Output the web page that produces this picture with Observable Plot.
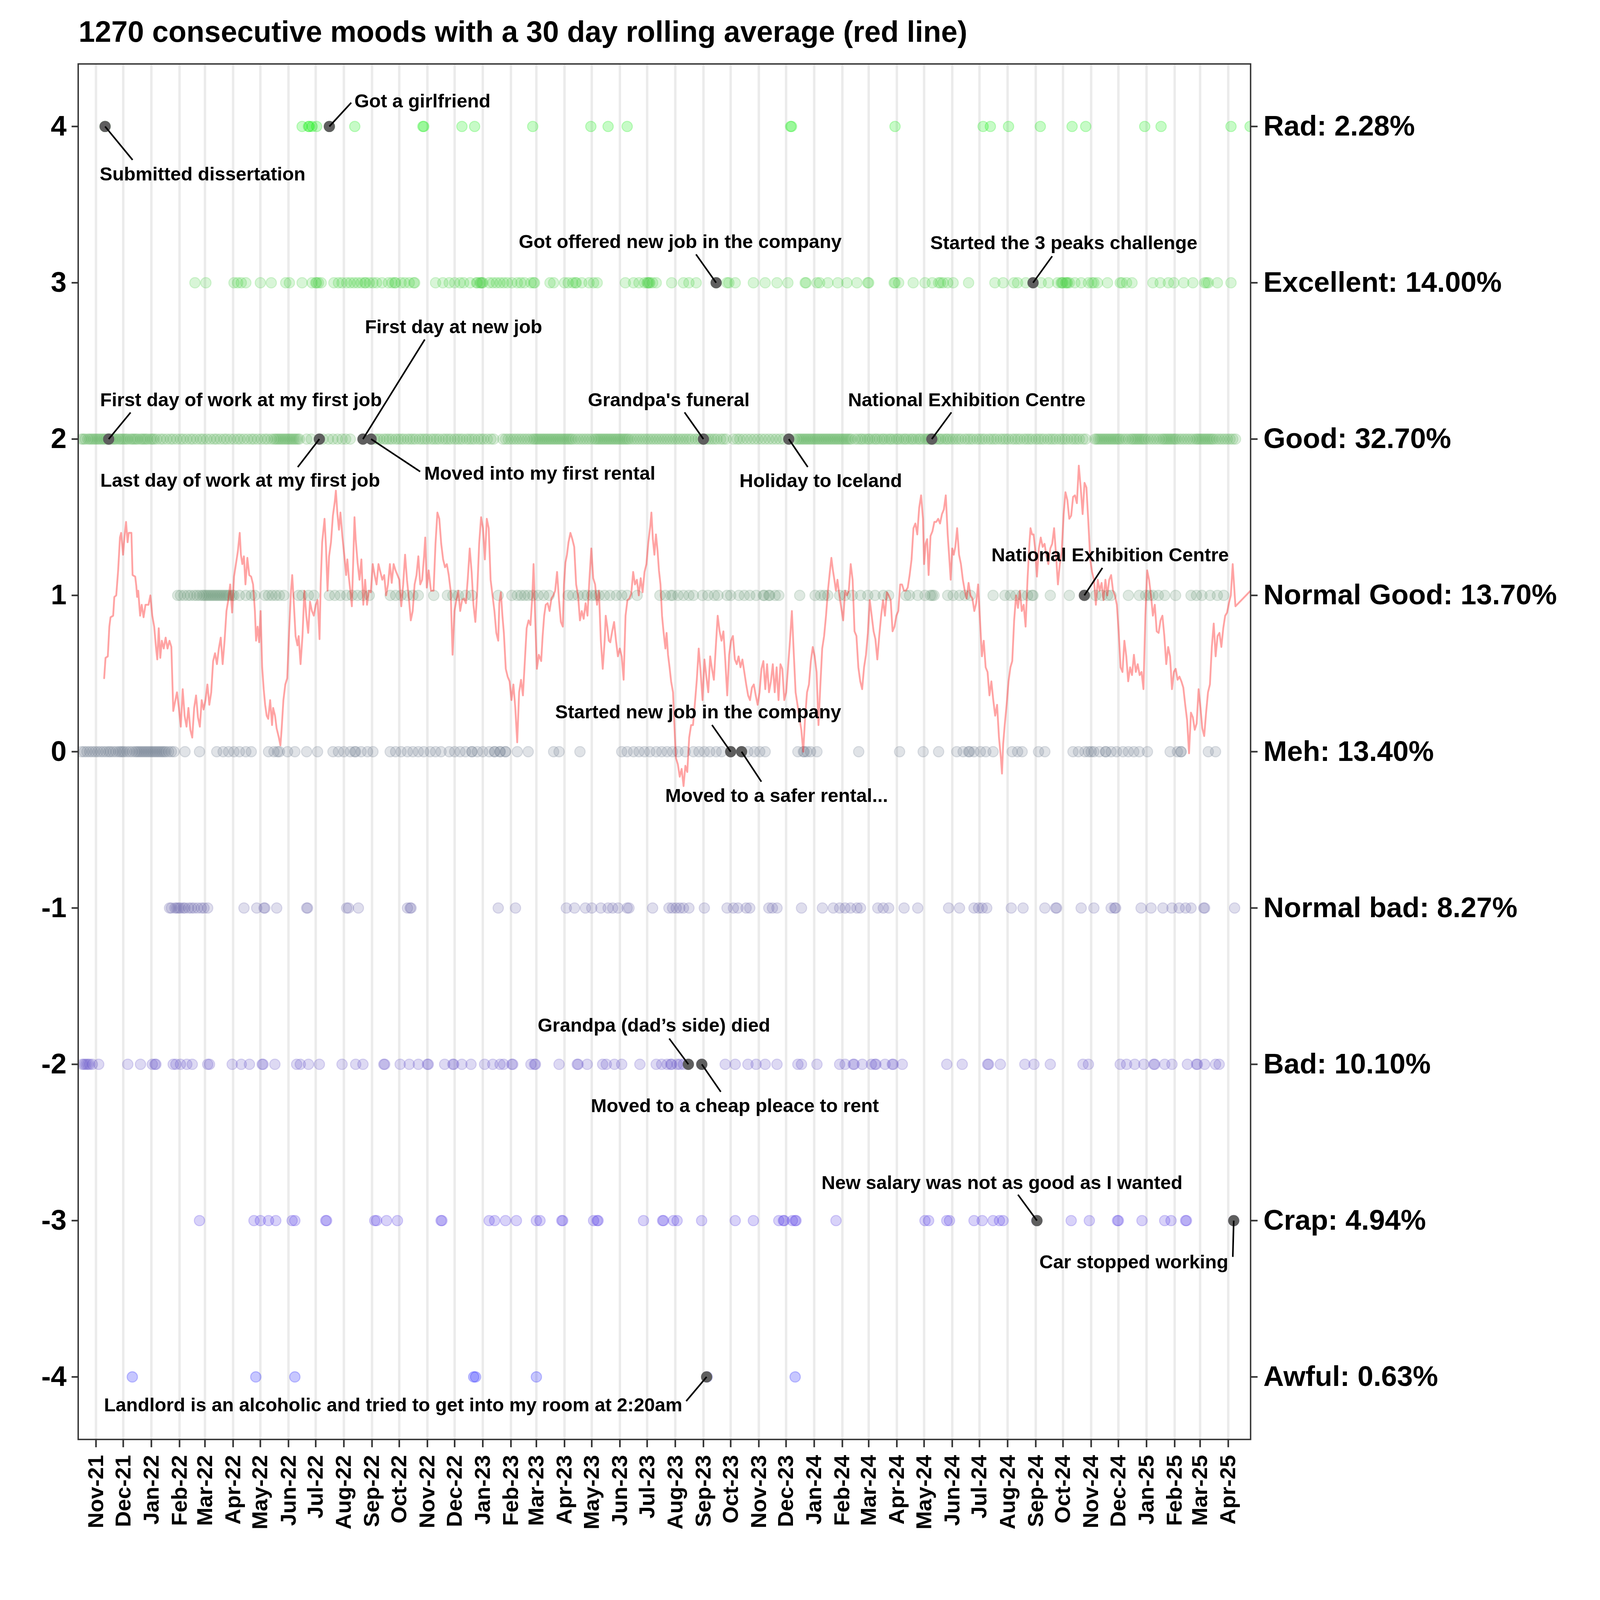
<!DOCTYPE html>
<html><head><meta charset="utf-8">
<script src="https://cdn.jsdelivr.net/npm/d3@7"></script>
<script src="https://cdn.jsdelivr.net/npm/@observablehq/plot@0.6"></script>
<style>
html,body{margin:0;padding:0;background:#fff;overflow:hidden;}
#wrap{position:absolute;left:0;top:0;font-family:"Liberation Sans",Arial,sans-serif;background:#fff;}
#title{position:absolute;font-weight:bold;white-space:nowrap;color:#000;}
#chart{position:absolute;left:0;}
</style></head><body>
<div id="wrap"><div id="title">1270 consecutive moods with a 30 day rolling average (red line)</div><div id="chart"></div></div>
<script>
// Day offsets from 2021-11-01 for each logged mood
const rad = [10,227,234,235,238,243,257,285,360,361,403,417,481,545,564,585,765,766,880,977,985,1005,1040,1075,1090,1155,1173,1250,1271];
const excellent = [109,121,152,156,160,165,181,193,209,213,227,238,242,243,245,248,262,267,271,276,280,284,288,292,296,297,301,305,309,315,322,326,329,330,336,340,345,350,351,374,382,389,395,401,405,412,419,420,423,424,425,426,433,437,441,445,449,453,458,464,468,472,479,482,483,500,504,516,520,525,528,529,535,543,548,552,583,592,598,604,607,608,609,610,613,617,634,
647,653,661,683,695,697,704,724,737,750,762,781,782,794,797,806,817,827,838,850,851,879,880,884,900,913,921,928,930,933,938,944,961,990,999,1011,1015,1024,1032,1041,1049,1059,1063,1064,1065,1068,1069,1070,1072,1078,1085,1093,1097,1099,1103,1114,1128,1130,1135,1141,1164,1172,1181,1187,1198,1208,1221,1223,1225,1235,1250];
const good = [-16,-14,-12,-9,-7,-5,-3,-1,1,3,5,7,9,11,13,14,16,18,20,22,25,27,29,31,33,35,38,40,42,44,46,49,51,53,55,57,60,62,64,
67,71,74,78,82,85,89,93,96,100,104,107,111,115,118,122,126,130,133,137,141,144,148,152,156,159,163,167,171,174,178,182,186,189,193,196,
198,200,202,204,206,208,210,212,214,216,218,220,222,224,232,237,246,250,256,261,266,271,275,280,294,303,
307,310,313,317,320,323,326,330,333,336,339,343,346,349,352,356,359,362,365,369,372,375,378,382,385,388,391,395,398,401,404,408,411,414,417,421,424,427,431,435,438,
448,451,454,457,460,463,466,469,472,475,478,481,483,485,487,489,491,493,495,497,499,501,503,505,507,509,511,513,515,517,519,521,523,525,528,531,534,537,540,543,546,549,551,553,555,557,559,561,563,565,567,569,571,573,575,577,579,581,583,585,587,590,593,596,599,602,605,608,611,614,617,620,623,626,629,632,635,
638,641,644,647,650,653,656,660,663,666,669,672,675,678,681,684,688,691,694,702,706,709,713,717,721,725,729,733,737,741,745,749,753,757,763,
769,772,774,776,778,780,782,784,786,788,790,792,794,796,798,800,802,804,806,808,810,812,814,816,818,820,822,824,826,828,830,832,
836,839,842,844,847,850,852,855,858,860,863,866,868,871,874,876,879,882,884,887,890,892,895,898,900,903,906,908,911,914,916,918,920,922,925,928,930,933,936,938,941,
944,947,950,953,957,960,963,966,970,973,976,979,983,986,989,992,996,999,1002,1005,1009,1012,1015,1018,1022,1025,1028,1031,1035,1038,1041,1044,1048,1051,1054,1057,1061,1064,1067,1070,1074,1077,1080,1083,1087,1090,
1100,1102,1104,1106,1108,1110,1112,1114,1116,1118,1120,1122,1124,1126,1128,1131,1134,1137,1140,1142,1144,1146,1148,1150,1152,1154,1156,1159,1162,1165,1168,1171,1174,1176,1178,1180,1182,1184,1186,1188,1190,1193,1196,1199,1202,1205,1208,1211,1213,1215,1217,1219,1221,1223,1225,1227,1229,1231,1234,1237,1240,1243,1246,1249,1252,1255];
const normalGood = [90,93,97,101,104,108,111,114,117,119,121,123,125,127,129,131,133,135,137,139,141,143,145,147,150,152,158,165,171,175,186,190,194,198,202,207,223,227,234,240,257,263,269,276,282,288,294,301,324,330,336,343,349,355,372,387,393,399,407,414,443,458,464,468,472,476,481,487,493,499,520,525,531,537,541,546,550,554,560,566,573,579,585,596,621,627,633,
635,641,647,653,658,668,674,681,685,695,699,708,714,720,727,735,736,741,742,748,752,775,792,798,802,806,819,825,833,842,850,858,867,873,892,896,905,913,919,921,923,938,944,951,957,963,988,1001,1007,1013,1020,1026,1031,1032,1051,1072,1089,1101,1108,1114,1118,1137,1149,1156,1160,1164,1170,1177,1189,1206,1212,1218,1227,1235,1242];
const meh = [-16,-13,-10,-7,-4,-1,2,5,8,11,14,16,19,22,25,27,29,31,34,37,40,43,45,47,49,51,53,55,57,59,61,63,65,67,69,71,73,75,77,80,83,86,98,114,133,140,146,152,158,165,171,190,196,200,202,211,219,232,244,261,267,273,280,285,286,292,299,305,324,330,336,343,349,355,361,368,374,380,389,395,401,407,414,414,420,426,433,439,439,445,445,451,451,464,476,504,510,533,579,585,592,598,604,610,617,623,629,
635,641,649,658,664,670,676,683,689,699,711,718,725,731,737,773,779,780,783,787,794,840,885,911,928,948,955,961,962,967,974,980,988,1009,1015,1020,1038,1045,1076,1082,1089,1093,1096,1099,1105,1112,1112,1118,1124,1131,1137,1143,1149,1158,1183,1191,1195,1195,1225,1233];
const normalBad = [81,83,87,89,91,93,96,98,102,105,108,112,116,119,123,163,177,185,186,199,232,233,276,278,289,343,346,347,443,462,518,527,539,546,556,564,569,575,585,587,613,631,
635,639,643,647,653,670,695,702,707,716,720,741,745,750,777,800,812,819,825,831,838,842,861,867,873,890,905,939,951,967,972,976,981,1008,1021,1045,1057,1058,1085,1099,1118,1122,1123,1151,1162,1175,1185,1193,1200,1206,1220,1221,1254];
const bad = [-15,-13,-11,-9,-7,-4,3,35,49,62,65,66,85,88,93,100,106,123,125,150,160,169,183,184,197,221,225,234,246,271,286,294,317,318,335,345,355,365,366,384,393,394,403,413,428,437,445,449,458,459,479,483,484,510,530,531,541,558,562,571,579,599,617,623,629,633,634,640,643,647,
652,667,693,704,718,727,737,750,773,777,794,819,825,834,835,844,854,858,859,869,877,878,888,937,954,982,983,996,1023,1033,1051,1087,1093,1128,1135,1144,1154,1165,1166,1177,1185,1202,1212,1213,1221,1233,1237];
const crap = [114,174,181,190,198,216,219,253,254,307,309,320,332,380,381,433,439,451,463,485,489,513,514,548,552,553,603,624,625,636,640,667,704,724,752,757,758,767,770,771,815,913,917,937,940,967,976,988,995,999,1036,1074,1094,1125,1126,1152,1177,1184,1200,1201,1253];
const awful = [40,176,219,416,418,485,673,770];

// 30 day rolling average: [day offset, value]
const rollingAvg = [[9,.47],[10.5,.60],[13,.61],[14.7,.80],[16,.86],[18.9,.87],[20.2,.99],[22.3,1.00],[24.4,1.16],[26.4,1.37],[27.7,1.40],[29.8,1.26],[31.5,1.38],[33.1,1.47],[34.8,1.34],[36.1,1.40],[39,1.40],[40.3,1.13],[43.2,1.12],[44.4,1.06],[45.3,.99],[46.5,1.03],[48.6,.87],[50.3,.94],[52.4,.86],[54.5,.94],[57.8,.94],[59.9,1.00],[62,.87],[64.1,.80],[66.2,.66],[67.5,.59],[69.1,.79],[70.8,.60],[72.5,.71],[74.6,.66],[76.7,.73],[78.8,.66],[80.9,.71],[83,.67],[85.1,.26],[87.1,.32],[89.2,.38],[91.3,.28],[93.4,.16],[95.5,.40],[97.6,.23],[99.7,.16],[101.8,.28],[103.9,.14],[106,.09],[108.1,.28],[110.2,.36],[112.3,.22],[114.4,.16],[116.4,.33],[118.5,.27],[120.6,.33],[122.7,.43],[124.8,.30],[126.9,.38],[129,.58],[131.1,.63],[133.2,.56],[135.3,.66],[137.4,.73],[139.5,.56],[141.6,.71],[143.7,.90],[145.7,.97],[147.8,1.07],[149.9,.89],[152,1.12],[154.1,1.20],[156.2,1.28],[158.3,1.40],[159.6,1.26],[161.2,1.20],[162.9,1.25],[164.6,1.07],[166.7,1.24],[168.8,1.13],[170.9,1.12],[173,1.07],[175,.90],[176.3,.71],[178,.80],[179.7,.70],[181.3,.90],[183,.54],[184.7,.40],[186.3,.30],[188,.23],[189.7,.21],[191.8,.33],[193.9,.17],[195.1,.28],[197.2,.23],[198.9,.15],[201.4,.09],[203.1,.04],[204.4,.14],[206.4,.33],[208.5,.43],[210.6,.47],[212.7,.77],[214.8,1.03],[216.1,1.13],[217.7,.97],[219.8,.74],[221.9,.68],[223.2,.74],[225.3,.56],[227.4,.74],[229.5,1.03],[231.6,.87],[233.7,.76],[235.7,.96],[237.8,.90],[239.9,.87],[242,.94],[244.1,.97],[246.2,.72],[247.5,1.08],[249.1,1.34],[251.7,1.49],[253.3,1.31],[255,1.03],[256.7,1.25],[258.8,1.34],[260.9,1.51],[263,1.60],[264.2,1.67],[265.9,1.52],[267.6,1.42],[269.2,1.53],[271.3,1.38],[273.4,1.26],[275.5,1.13],[276.8,1.23],[278.4,1.12],[280.1,1.03],[281.8,.93],[283.5,1.26],[284.7,1.50],[286,1.36],[288.1,1.21],[290.2,1.10],[292.3,1.23],[294.4,.94],[296.4,1.10],[298.5,.94],[300.6,1.03],[302.7,1.02],[304.8,1.20],[306.9,1.13],[309,1.07],[311.1,1.20],[313.2,1.15],[315.3,1.10],[317.4,1.13],[319.5,1.00],[321.6,1.07],[323.7,1.20],[325.7,1.08],[327.8,1.20],[329.9,1.16],[332,1.13],[334.1,1.10],[336.2,.93],[338.3,1.07],[340.4,1.26],[342.5,1.10],[344.6,.98],[346.7,.84],[348.8,.90],[350.9,1.07],[353,1.13],[355,1.25],[357.1,1.07],[359.2,1.10],[361.3,1.25],[362.6,1.37],[364.3,1.05],[366.4,1.16],[368.9,1.03],[371.8,1.03],[373.9,1.33],[376,1.53],[378.1,1.49],[380.2,1.33],[382.3,1.23],[384.4,1.18],[386.4,1.20],[388.5,1.13],[390.6,1.03],[392.7,.62],[394.8,.90],[396.9,.97],[399,1.03],[401.1,.90],[403.2,.97],[405.3,.98],[407.4,.95],[409.5,1.11],[411.6,1.30],[413.7,1.15],[415.7,.94],[417.8,.83],[419.9,1.03],[422,1.33],[424.1,1.50],[426.2,1.43],[428.3,1.23],[430.4,1.49],[432.5,1.43],[434.6,1.10],[436.7,1.00],[438.8,.90],[440.9,.76],[443,.71],[444.2,.95],[445.9,1.02],[447.6,.87],[449.2,.76],[451.3,.53],[453.4,.48],[455.5,.45],[457.6,.33],[459.7,.43],[461.8,.28],[463.9,.06],[466,.38],[468.1,.46],[470.2,.36],[472.3,.58],[474.3,.79],[476.4,.84],[478.5,.81],[480.6,1.00],[481.9,1.20],[483.6,.87],[485.6,.53],[487.7,.62],[490.3,.58],[491.9,.74],[493.6,.87],[495.3,.94],[497.4,.95],[499.5,.90],[501.6,.98],[503.7,1.00],[505.7,1.03],[507.8,1.15],[509.9,.97],[512,.83],[514.1,.80],[515.4,1.07],[517,1.21],[518.7,1.26],[520.4,1.34],[522.5,1.40],[524.6,1.36],[526.7,1.31],[528.8,1.07],[530.9,1.00],[533,.84],[535,.90],[537.1,.85],[539.2,.95],[541.3,.87],[543.4,1.10],[545.5,1.30],[547.6,1.11],[549.7,1.07],[551.8,.94],[553.9,1.03],[556,.71],[558.1,.53],[560.2,.71],[561.4,.87],[563.1,.80],[564.8,.71],[566.4,.70],[568.5,.77],[570.6,.83],[572.7,.71],[574.8,.61],[576.9,.66],[579,.61],[581.1,.46],[583.2,.87],[585.3,.97],[587.4,.98],[589.5,1.01],[591.6,1.15],[593.6,1.07],[595.7,1.10],[597.8,1.00],[599.9,1.11],[602,1.02],[604.1,1.15],[606.2,1.20],[608.3,1.34],[610.4,1.44],[611.7,1.53],[613.3,1.36],[615,1.26],[616.7,1.39],[618.4,1.29],[620,1.16],[621.7,1.07],[623.4,.87],[625,.77],[627.1,.66],[628.4,.76],[630,.62],[631.7,.54],[633.4,.45],[635.5,.38],
[636.6,.22],[638.7,-.04],[640.8,-.08],[642.9,-.16],[645,-.11],[647.1,-.22],[649.1,-.09],[651.2,-.13],[653.3,.09],[655.4,.17],[657.5,.17],[659.6,.31],[661.7,.46],[663.8,.66],[665.9,.51],[668,.33],[670.1,.59],[672.2,.48],[674.3,.38],[676.4,.61],[678.4,.53],[680.5,.46],[682.6,.67],[684.7,.87],[686.8,.77],[688.9,.71],[691,.77],[693.1,.58],[695.2,.36],[697.3,.62],[699.4,.71],[701.5,.74],[703.6,.59],[705.7,.56],[707.7,.61],[709.8,.54],[711.9,.59],[714,.51],[716.1,.43],[718.2,.36],[720.3,.33],[722.4,.41],[724.5,.43],[726.6,.36],[728.7,.30],[730.8,.38],[732.9,.53],[735,.58],[737.1,.40],[739.1,.56],[741.2,.38],[743.3,.45],[745.4,.56],[747.5,.38],[749.6,.54],[751.7,.33],[753.8,.56],[755.9,.53],[758,.33],[760.1,.38],[762.2,.54],[764.3,.71],[766.4,.90],[768.4,.64],[770.5,.38],[772.6,.30],[774.7,.22],[776.8,.14],[778.9,.00],[781,.22],[783.1,.38],[785.2,.43],[787.3,.58],[789.4,.67],[791.5,.61],[793.6,.51],[795.7,.17],[797.8,.43],[799.8,.66],[801.9,.74],[804,.87],[806.1,1.03],[808.2,1.15],[809.9,1.24],[811.6,1.16],[813.2,1.10],[814.9,1.03],[816.6,1.10],[818.7,1.00],[820.8,.92],[822.9,.84],[825,1.03],[827,1.00],[829.1,1.03],[831.2,1.20],[833.3,1.10],[835.4,.77],[837.5,.74],[839.6,.54],[841.7,.45],[843.8,.40],[845.9,.54],[848,.62],[850.1,.76],[852.2,.97],[854.3,.87],[856.4,.77],[858.4,.72],[860.5,.59],[862.6,.74],[864.7,.87],[866.8,.97],[868.9,.87],[871,1.02],[873.1,1.00],[875.2,.97],[877.3,.77],[879.4,.80],[881.5,.87],[883.6,.90],[885.7,1.07],[887.7,1.07],[889.8,1.03],[891.9,1.03],[894,1.05],[896.1,1.13],[898.2,1.23],[900.3,1.43],[902.4,1.46],[904.5,1.39],[906.6,1.56],[908.7,1.64],[910.8,1.49],[912,1.20],[913.7,1.33],[915.4,1.36],[917,1.13],[919.1,1.38],[921.2,1.41],[923.3,1.47],[925.4,1.47],[927.5,1.49],[929.6,1.46],[931.7,1.52],[933.8,1.55],[935.9,1.64],[938,1.39],[940.1,1.21],[941.3,1.10],[943,1.30],[944.7,1.26],[946.4,1.31],[948.4,1.43],[950.5,1.26],[952.6,1.20],[954.7,1.10],[956.8,1.03],[958.9,.98],[961,1.08],[963.1,1.00],[965.2,.98],[967.3,.90],[969.4,.95],[971.5,1.07],[973.6,.84],[975.7,.61],[977.7,.71],[979.8,.54],[981.9,.51],[984,.36],[986.1,.45],[988.2,.33],[990.3,.23],[992.4,.30],[994.5,.09],[996.6,-.04],[997.8,-.14],[999.1,.05],[1000.8,.17],[1002.9,.30],[1005,.45],[1007.1,.54],[1009.1,.58],[1011.2,.84],[1013.3,1.00],[1015.4,.92],[1017.5,1.03],[1019.6,.90],[1021.7,.94],[1023.8,.80],[1025.9,1.10],[1028,1.33],[1029.2,1.43],[1030.9,1.39],[1032.6,1.39],[1034.3,1.30],[1036.3,1.12],[1038.4,1.30],[1040.5,1.37],[1042.6,1.31],[1044.7,1.33],[1046.8,1.25],[1048.9,1.20],[1051,1.30],[1053.1,1.33],[1055.2,1.43],[1057.3,1.26],[1059.4,1.07],[1061.5,1.20],[1063.6,1.28],[1065.7,1.52],[1067.7,1.66],[1069.8,1.61],[1071.9,1.49],[1074,1.51],[1076.1,1.63],[1078.2,1.64],[1080.3,1.59],[1082.4,1.83],[1084.5,1.69],[1086.6,1.52],[1088.7,1.72],[1090.8,1.69],[1092.9,1.47],[1095,1.23],[1097,1.15],[1099.1,1.10],[1101.2,.94],[1103.3,1.10],[1105.4,1.03],[1107.5,1.08],[1109.6,.97],[1111.7,1.10],[1113.8,1.00],[1115.9,1.10],[1118,1.13],[1120.1,1.03],[1122.2,1.00],[1124.3,.94],[1126.3,.77],[1128.4,.54],[1130.5,.51],[1132.6,.71],[1134.7,.61],[1136.8,.45],[1138.9,.54],[1141,.49],[1143.1,.62],[1145.2,.51],[1147.3,.56],[1149.4,.49],[1151.5,.51],[1153.6,.40],[1155.7,.87],[1157.7,1.16],[1159.8,1.10],[1161.9,1.00],[1164,.87],[1166.1,.94],[1168.2,.77],[1170.3,.76],[1172.4,.84],[1174.5,.87],[1176.6,.74],[1178.7,.56],[1180.8,.67],[1182.9,.61],[1185,.40],[1187.1,.51],[1189.1,.53],[1191.2,.46],[1193.3,.48],[1195.4,.45],[1197.5,.41],[1199.6,.30],[1201.7,.20],[1203.8,-.01],[1205.9,.25],[1208,.22],[1210.1,.14],[1212.2,.18],[1214.3,.40],[1216.4,.28],[1218.4,.15],[1220.5,.10],[1222.6,.25],[1224.7,.38],[1226.8,.43],[1228.9,.67],[1231,.82],[1233.1,.61],[1235.2,.74],[1237.3,.76],[1239.4,.67],[1241.5,.79],[1243.6,.87],[1245.7,.89],[1247.7,.95],[1249.8,1.00],[1251.9,1.20],[1254.9,.93],[1271.6,1.03]];

// Mood levels and the right-hand labels
const moodLevels = [4,3,2,1,0,-1,-2,-3,-4];
const moodLabels = ["Rad: 2.28%","Excellent: 14.00%","Good: 32.70%","Normal Good: 13.70%","Meh: 13.40%","Normal bad: 8.27%","Bad: 10.10%","Crap: 4.94%","Awful: 0.63%"];

// Annotated events: day offset, mood, text
const eventDays = [10,257,683,1032,14,246,294,303,669,763,920.5,1088.5,699,711,652.4,667.2,672.5,1036.3,1253];
const eventMoods = [4,4,3,3,2,2,2,2,2,2,2,1,0,0,-2,-2,-4,-3,-3];
const eventTexts = ["Submitted dissertation","Got a girlfriend","Got offered new job in the company","Started the 3 peaks challenge","First day of work at my first job","Last day of work at my first job","First day at new job","Moved into my first rental","Grandpa's funeral","Holiday to Iceland","National Exhibition Centre","National Exhibition Centre","Started new job in the company","Moved to a safer rental...","Grandpa (dad\u2019s side) died","Moved to a cheap pleace to rent","Landlord is an alcoholic and tried to get into my room at 2:20am","New salary was not as good as I wanted","Car stopped working"];
// label anchor (day, value) and leader end (day, value)
const labelDays = [117.4,359.5,643.4,1065.9,159.7,158.8,393.8,488.8,630.8,798.2,959.0,1116.9,663.2,749.6,614.5,703.6,327.3,997.8,1143.0];
const labelVals = [3.694,4.162,3.261,3.253,2.250,1.733,2.717,1.778,2.250,1.731,2.250,1.256,0.253,-0.283,-1.752,-2.266,-4.182,-2.758,-3.267];
const leaderDays = [40.3,281.1,660.8,1053.1,38.1,222.2,362.1,357.0,648.2,783.9,942.1,1108.4,678.4,732.8,631.3,688.1,650.0,1015.4,1252.0];
const leaderVals = [3.786,4.152,3.182,3.170,2.170,1.821,2.637,1.792,2.171,1.821,2.171,1.176,0.171,-0.192,-1.835,-2.176,-4.155,-2.834,-3.232];

const base = Date.UTC(2021, 10, 1);
const toDate = d => new Date(base + d * 864e5);

const rows = [[4,rad],[3,excellent],[2,good],[1,normalGood],[0,meh],[-1,normalBad],[-2,bad],[-3,crap],[-4,awful]];
const points = rows.flatMap(([m, days]) => days.map(d => ({date: toDate(d), mood: m}))).sort((a,b) => a.date - b.date);
const avg = rollingAvg.map(([d, v]) => ({date: toDate(d), value: v}));
const events = eventDays.map((d, i) => ({
  date: toDate(d), mood: eventMoods[i], text: eventTexts[i],
  lx: toDate(labelDays[i]), ly: labelVals[i], ex: toDate(leaderDays[i]), ey: leaderVals[i]
}));
const months = d3.utcMonths(new Date(Date.UTC(2021,10,1)), new Date(Date.UTC(2025,4,1)));

// Layout is designed for 8000x6400 and fitted to the actual window.
const W = window.innerWidth || 8000, H = window.innerHeight || 6400;
const sx = W / 8000, sy = H / 6400, f = Math.min(sx, sy);
const wrap = document.getElementById("wrap");
wrap.style.width = W + "px"; wrap.style.height = H + "px";
const title = document.getElementById("title");
title.style.left = (393 * sx) + "px";
title.style.fontSize = (147 * f) + "px";
title.style.lineHeight = (147 * f) + "px";
title.style.top = (169 * sy - 124.4 * f) + "px";
document.getElementById("chart").style.top = (200 * sy) + "px";

const chart = Plot.plot({
  width: 8000 * sx, height: 6200 * sy,
  marginTop: 55 * sy, marginBottom: 643 * sy, marginLeft: 390 * sx, marginRight: 1748 * sx,
  style: {fontFamily: '"Liberation Sans", Arial, sans-serif', fontWeight: "bold", background: "white", color: "black"},
  x: {type: "utc", domain: [toDate(-19.6), toDate(1271.6)]},
  y: {domain: [-4.4, 4.4]},
  color: {type: "linear", domain: [-4, 0, 4], range: ["#0000ff", "#708090", "#00ee00"], interpolate: "lab"},
  marks: [
    Plot.ruleX(months, {stroke: "#ebebeb", strokeWidth: 12 * sx}),
    Plot.dot(points, {x: "date", y: "mood", r: 26 * sx, fill: "mood", stroke: "mood", fillOpacity: 0.22, strokeOpacity: 0.22, strokeWidth: 5 * f, clip: true}),
    Plot.line(avg, {x: "date", y: "value", stroke: "#ff0000", strokeOpacity: 0.36, strokeWidth: 9 * f, clip: true}),
    Plot.dot(events, {x: "date", y: "mood", r: 28 * sx, fill: "#5e5e5e", stroke: "none"}),
    Plot.link(events, {x1: "date", y1: "mood", x2: "ex", y2: "ey", stroke: "black", strokeWidth: 8 * f}),
    Plot.text(events, {x: "lx", y: "ly", text: "text", fontSize: 95 * f, fontWeight: "bold", fill: "black", textAnchor: "middle", lineAnchor: "middle"}),
    Plot.frame({stroke: "#333", strokeWidth: 7 * f}),
    Plot.axisX({ticks: months, tickFormat: d3.utcFormat("%b-%y"), tickRotate: -90, tickSize: 32 * sy, tickPadding: 30 * sy, fontSize: 110 * f, stroke: "#333", strokeWidth: 8 * f, fill: "black", label: null}),
    Plot.axisY({anchor: "left", ticks: moodLevels, tickFormat: d => String(d), tickSize: 32 * sx, tickPadding: 26 * sx, fontSize: 142 * f, stroke: "#333", strokeWidth: 8 * f, fill: "black", label: null}),
    Plot.axisY({anchor: "right", ticks: moodLevels, tickFormat: d => moodLabels[moodLevels.indexOf(d)], tickSize: 34 * sx, tickPadding: 30 * sx, fontSize: 142 * f, stroke: "#333", strokeWidth: 8 * f, fill: "black", label: null})
  ]
});
document.getElementById("chart").appendChild(chart);
</script></body></html>
